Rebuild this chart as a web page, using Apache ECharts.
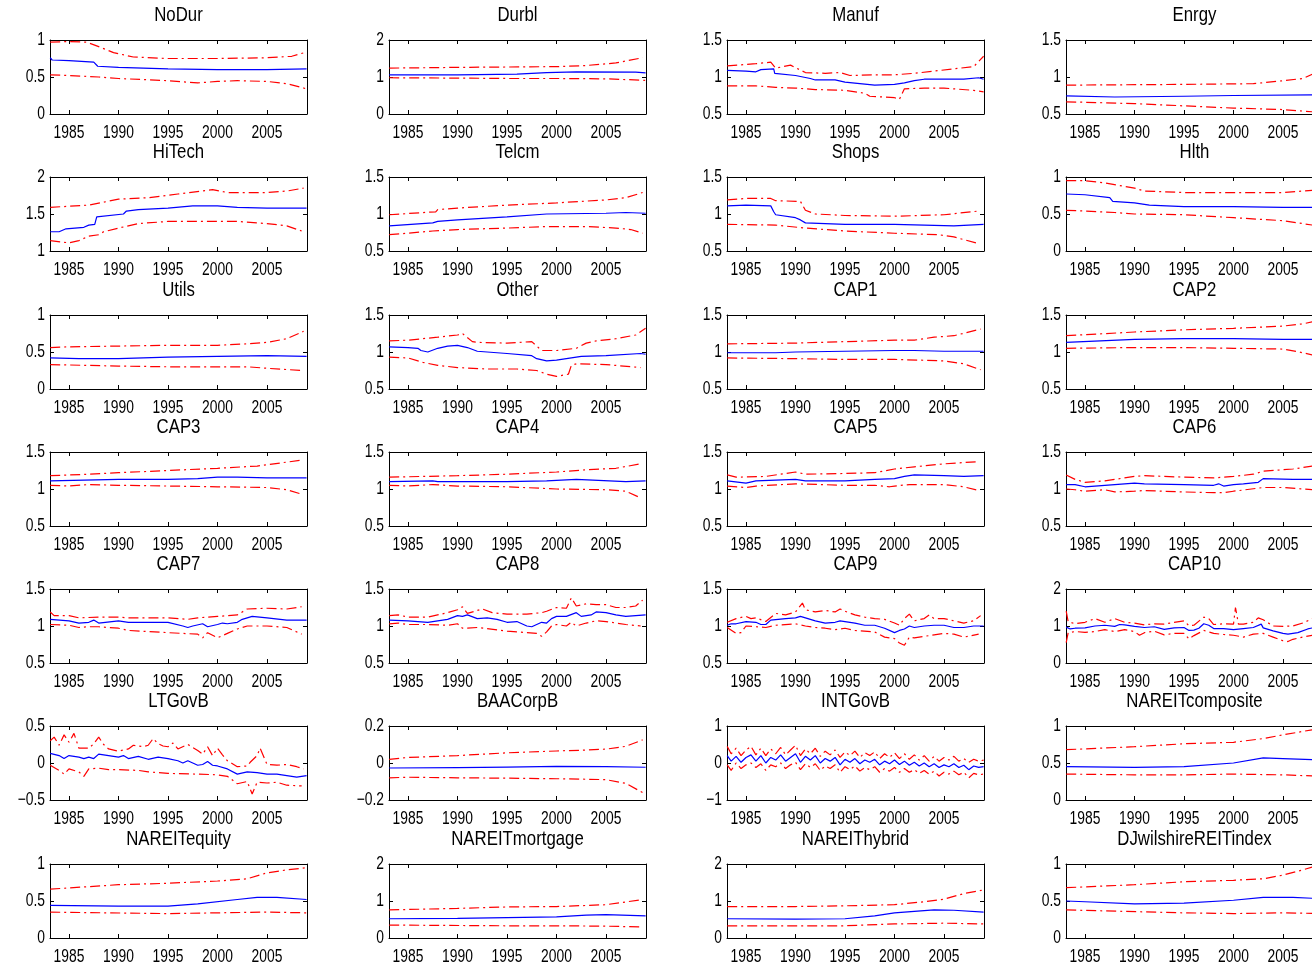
<!DOCTYPE html>
<html>
<head>
<meta charset="utf-8">
<script src="https://cdn.jsdelivr.net/npm/echarts@6/dist/echarts.min.js"></script>
<style>
  html, body { margin: 0; padding: 0; background: #fff; }
  #chart { width: 1312px; height: 971px; }
</style>
</head>
<body>
<div id="chart"></div>
<script>
// year ticks shown under every panel
const yearTicks = [1985, 1990, 1995, 2000, 2005];

// each series: [year, value]; Mid = estimate (blue), Up / Lo = bands (red)
const noDurMid = [[1983.1,0.76],[1983.3,0.73],[1985,0.72],[1987.5,0.70],[1987.7,0.69],[1987.9,0.645],[1990,0.63],[1995,0.61],[2000,0.60],[2005,0.60],[2009,0.61]];
const noDurUp = [[1983.1,0.97],[1985,0.98],[1986.8,0.97],[1988,0.91],[1989.5,0.83],[1991.5,0.77],[1995,0.75],[2000,0.75],[2005,0.76],[2007.5,0.78],[2008.8,0.83]];
const noDurLo = [[1983.1,0.53],[1985,0.52],[1988,0.50],[1990,0.48],[1995,0.45],[1998,0.42],[2000,0.44],[2002,0.45],[2005,0.44],[2007,0.41],[2009,0.34]];

const durblMid = [[1983.1,1.06],[1990,1.06],[1996,1.08],[1999,1.12],[2002,1.14],[2008,1.13],[2009,1.11]];
const durblUp = [[1983.1,1.24],[1990,1.26],[1995,1.27],[2000,1.28],[2003,1.31],[2006,1.38],[2008.7,1.52]];
const durblLo = [[1983.1,0.98],[1990,0.97],[1995,0.96],[2000,0.96],[2005,0.95],[2009,0.91]];

const manufMid = [[1983.1,1.09],[1985,1.08],[1986,1.07],[1986.5,1.10],[1987.8,1.11],[1987.9,1.05],[1990,1.02],[1991.5,0.98],[1992,0.96],[1994,0.96],[1995,0.93],[1998,0.89],[2000,0.90],[2001,0.92],[2002,0.95],[2003,0.97],[2007,0.97],[2008.5,0.99],[2009,0.97]];
const manufUp = [[1983.1,1.15],[1986,1.18],[1987.5,1.20],[1988,1.12],[1989.5,1.16],[1991,1.06],[1993,1.05],[1994.5,1.06],[1995.5,1.02],[1998,1.03],[2000,1.03],[2002,1.05],[2004,1.08],[2006,1.11],[2008,1.14],[2009,1.28]];
const manufLo = [[1983.1,0.88],[1986,0.88],[1988,0.86],[1990,0.85],[1992,0.83],[1995,0.82],[1997,0.78],[1997.5,0.74],[2000,0.72],[2000.5,0.70],[2001,0.84],[2003,0.85],[2005,0.85],[2008,0.82],[2009,0.80]];

const enrgyMid = [[1983.1,0.745],[1988,0.73],[1995,0.74],[2000,0.75],[2009,0.76]];
const enrgyUp = [[1983.1,0.89],[1995,0.90],[2002,0.91],[2005,0.95],[2007,0.98],[2008,1.04],[2009,1.08]];
const enrgyLo = [[1983.1,0.665],[1990,0.64],[1995,0.61],[2000,0.58],[2005,0.56],[2008,0.53],[2009,0.50]];

const hiTechMid = [[1983.1,1.26],[1984,1.26],[1984.7,1.30],[1986.5,1.32],[1987,1.35],[1987.6,1.36],[1987.8,1.46],[1990.5,1.50],[1990.8,1.54],[1992,1.56],[1995,1.58],[1997.5,1.61],[2000,1.61],[2002,1.59],[2005,1.58],[2009,1.58]];
const hiTechUp = [[1983.1,1.59],[1987,1.62],[1990,1.70],[1993,1.72],[1996,1.77],[1999.5,1.83],[2001,1.79],[2005,1.79],[2007,1.81],[2008.7,1.85]];
const hiTechLo = [[1983.1,1.14],[1985,1.11],[1986,1.14],[1987,1.20],[1988,1.22],[1988.5,1.26],[1990,1.31],[1992,1.37],[1995,1.40],[2000,1.40],[2002,1.40],[2005,1.37],[2007,1.34],[2008.5,1.27]];

const telcmMid = [[1983.1,0.84],[1987.5,0.88],[1988,0.90],[1990,0.92],[1995,0.96],[1999,1.00],[2005,1.01],[2007,1.02],[2009,1.01]];
const telcmUp = [[1983.1,0.99],[1987.8,1.03],[1988,1.06],[1990,1.08],[1995,1.12],[2000,1.15],[2005,1.19],[2007,1.22],[2008.7,1.29]];
const telcmLo = [[1983.1,0.72],[1987.5,0.77],[1990,0.79],[1995,0.81],[1999,0.83],[2003,0.83],[2006,0.81],[2007.5,0.79],[2008.7,0.74]];

const shopsMid = [[1983.1,1.11],[1985,1.12],[1987.5,1.11],[1987.8,1.03],[1988,0.99],[1990,0.95],[1990.5,0.92],[1991,0.88],[1995,0.86],[2000,0.86],[2003,0.85],[2006,0.84],[2009,0.86]];
const shopsUp = [[1983.1,1.19],[1985,1.21],[1987.5,1.21],[1988,1.18],[1990.5,1.17],[1991,1.05],[1992,1.00],[1995,0.98],[2000,0.97],[2005,0.99],[2008.5,1.04]];
const shopsLo = [[1983.1,0.86],[1988,0.85],[1991,0.81],[1995,0.77],[2000,0.74],[2004.5,0.72],[2006,0.69],[2008.5,0.60]];

const hlthMid = [[1983.1,0.77],[1985,0.76],[1987.5,0.72],[1987.8,0.67],[1990,0.65],[1991.5,0.62],[1995,0.60],[2000,0.60],[2005,0.59],[2009,0.59]];
const hlthUp = [[1983.1,0.95],[1985,0.95],[1987,0.92],[1990,0.85],[1991,0.81],[1995,0.79],[2000,0.79],[2005,0.79],[2008,0.82],[2009,0.84]];
const hlthLo = [[1983.1,0.55],[1985,0.54],[1988,0.52],[1990,0.50],[1995,0.49],[2000,0.45],[2005,0.41],[2009,0.33]];

const utilsMid = [[1983.1,0.42],[1986,0.41],[1990,0.41],[1995,0.43],[2000,0.44],[2005,0.45],[2009,0.44]];
const utilsUp = [[1983.1,0.56],[1985,0.57],[1990,0.58],[1995,0.59],[2000,0.59],[2003,0.61],[2005,0.63],[2007,0.68],[2008.7,0.78]];
const utilsLo = [[1983.1,0.33],[1990,0.31],[1995,0.30],[2000,0.30],[2003,0.30],[2005,0.28],[2008.5,0.25]];

const otherMid = [[1983.1,1.07],[1985,1.06],[1986,1.05],[1986.3,1.02],[1987,1.00],[1988,1.05],[1989,1.08],[1990,1.09],[1991,1.06],[1992,1.01],[1995,0.98],[1997.5,0.95],[1998,0.91],[1999,0.88],[2000,0.89],[2001.5,0.92],[2002.5,0.94],[2005,0.95],[2008.5,0.98],[2009,0.97]];
const otherUp = [[1983.1,1.15],[1985,1.16],[1988,1.20],[1990,1.23],[1990.5,1.25],[1991.5,1.14],[1992,1.13],[1995,1.12],[1997.5,1.14],[1998.5,1.02],[2000,1.02],[2002,1.05],[2003,1.12],[2004,1.15],[2006,1.18],[2008,1.23],[2009,1.32]];
const otherLo = [[1983.1,0.93],[1985,0.92],[1986.5,0.86],[1988,0.82],[1990,0.79],[1993,0.77],[1996,0.77],[1998,0.75],[1999,0.70],[2000,0.67],[2001.2,0.70],[2001.5,0.82],[2002,0.84],[2005,0.83],[2008.5,0.79]];

const cap1Mid = [[1983.1,0.99],[1988,0.99],[1990,1.00],[1995,1.01],[2000,1.02],[2002,1.02],[2005,1.01],[2009,1.01]];
const cap1Up = [[1983.1,1.11],[1990,1.12],[1995,1.14],[2000,1.16],[2002,1.16],[2004,1.20],[2006,1.22],[2008.7,1.31]];
const cap1Lo = [[1983.1,0.92],[1990,0.91],[1995,0.90],[2000,0.90],[2005,0.88],[2007,0.84],[2008.7,0.76]];

const cap2Mid = [[1983.1,1.13],[1990,1.17],[1995,1.18],[2000,1.18],[2005,1.17],[2009,1.17]];
const cap2Up = [[1983.1,1.22],[1990,1.27],[1995,1.30],[2000,1.32],[2005,1.35],[2007,1.38],[2008,1.41],[2009,1.43]];
const cap2Lo = [[1983.1,1.05],[1990,1.06],[1995,1.06],[2000,1.05],[2005,1.04],[2007,0.99],[2008,0.96],[2009,0.94]];

const cap3Mid = [[1983.1,1.11],[1990,1.13],[1995,1.13],[1998,1.14],[2000,1.16],[2002,1.16],[2005,1.15],[2009,1.15]];
const cap3Up = [[1983.1,1.18],[1987,1.20],[1990,1.22],[1995,1.25],[2000,1.28],[2004,1.31],[2008.5,1.39]];
const cap3Lo = [[1983.1,1.05],[1985,1.04],[1987,1.06],[1990,1.05],[1995,1.04],[2000,1.03],[2005,1.02],[2007,0.99],[2008.5,0.93]];

const cap4Mid = [[1983.1,1.10],[1987.5,1.11],[1988,1.10],[1995,1.10],[1999,1.11],[2002,1.13],[2007,1.10],[2009,1.11]];
const cap4Up = [[1983.1,1.16],[1990,1.18],[1995,1.20],[2000,1.23],[2003,1.26],[2006,1.28],[2008.5,1.34]];
const cap4Lo = [[1983.1,1.05],[1985,1.04],[1987.5,1.06],[1990,1.04],[1995,1.03],[2000,1.00],[2005,0.99],[2007,0.97],[2008.5,0.88]];

const cap5Mid = [[1983.1,1.11],[1985,1.08],[1986,1.11],[1990,1.13],[1991,1.11],[1995,1.11],[1998,1.13],[2000,1.14],[2001,1.17],[2002,1.19],[2005,1.18],[2007,1.17],[2009,1.18]];
const cap5Up = [[1983.1,1.19],[1984,1.16],[1987,1.17],[1990,1.23],[1991,1.20],[1995,1.21],[1998,1.22],[2000,1.27],[2002,1.30],[2005,1.34],[2008.5,1.37]];
const cap5Lo = [[1983.1,1.04],[1985,1.02],[1986,1.04],[1990,1.07],[1995,1.05],[1998,1.05],[1999.5,1.03],[2000,1.04],[2001.5,1.06],[2005,1.06],[2007,1.03],[2008.5,0.98]];

const cap6Mid = [[1983.1,1.06],[1984,1.06],[1985,1.03],[1987,1.05],[1990,1.08],[1991,1.07],[1995,1.06],[1998,1.05],[1998.5,1.07],[1999,1.04],[2000,1.06],[2001,1.07],[2002.5,1.09],[2003,1.14],[2006,1.13],[2009,1.13]];
const cap6Up = [[1983.1,1.19],[1984,1.13],[1985,1.09],[1987,1.11],[1990,1.17],[1991,1.18],[1995,1.16],[1998,1.15],[2000,1.17],[2002,1.20],[2003,1.24],[2006,1.27],[2008,1.31],[2009,1.33]];
const cap6Lo = [[1983.1,1.00],[1984,0.99],[1985,0.97],[1987,0.99],[1988,0.96],[1990,0.97],[1991,0.98],[1995,0.96],[1998,0.95],[1999,0.95],[2000,0.97],[2003,1.02],[2005,1.02],[2008,0.99],[2009,0.97]];

const cap7Mid = [[1983.1,1.09],[1985,1.07],[1986,1.04],[1987,1.05],[1987.5,1.08],[1988,1.04],[1990,1.07],[1991,1.05],[1995,1.05],[1996.5,1.00],[1997,0.98],[1997.5,1.00],[1998.5,1.03],[1999,0.99],[2000,1.02],[2000.5,1.04],[2001,1.03],[2002,1.05],[2002.5,1.09],[2003.5,1.13],[2005,1.11],[2007,1.08],[2009,1.08]];
const cap7Up = [[1983.1,1.19],[1983.5,1.14],[1985,1.14],[1986,1.11],[1988,1.12],[1990,1.12],[1991,1.11],[1995,1.11],[1997,1.09],[1998,1.11],[2000,1.13],[2002,1.15],[2003,1.23],[2005,1.24],[2007,1.23],[2008.5,1.26]];
const cap7Lo = [[1983.1,1.02],[1985,1.01],[1986,0.98],[1987,0.99],[1988,0.99],[1990,0.97],[1991,0.94],[1995,0.91],[1998,0.89],[1998.5,0.84],[1999,0.91],[2000,0.84],[2001,0.90],[2002,0.96],[2003,1.00],[2005,1.00],[2007,0.98],[2008.5,0.89]];

const cap8Mid = [[1983.1,1.08],[1985,1.07],[1987,1.05],[1988,1.07],[1989,1.09],[1990,1.14],[1990.5,1.13],[1991,1.15],[1992,1.10],[1993,1.11],[1994,1.09],[1995,1.05],[1996,1.06],[1997,1.00],[1997.5,0.99],[1998.5,1.05],[1999,1.04],[1999.5,1.10],[2000,1.13],[2001,1.13],[2002,1.18],[2002.5,1.13],[2003.5,1.15],[2004,1.19],[2005,1.18],[2006,1.15],[2007,1.13],[2008,1.14],[2009,1.15]];
const cap8Up = [[1983.1,1.14],[1984,1.15],[1985,1.12],[1987,1.12],[1989,1.18],[1990,1.22],[1990.5,1.26],[1991,1.17],[1992.5,1.23],[1993.5,1.18],[1995,1.16],[1997,1.16],[1998.5,1.18],[1999,1.20],[2000,1.25],[2001,1.24],[2001.5,1.38],[2002,1.27],[2003,1.30],[2004,1.29],[2005,1.29],[2006,1.25],[2007,1.25],[2008,1.27],[2008.7,1.35]];
const cap8Lo = [[1983.1,1.03],[1984,1.04],[1985,1.02],[1987,1.02],[1989,1.01],[1990,1.03],[1990.5,0.97],[1991,0.97],[1992,0.98],[1995,0.93],[1997,0.91],[1998,0.90],[1998.5,0.86],[1999,0.92],[1999.5,1.00],[2000,1.02],[2001,1.00],[2001.5,1.05],[2002,1.00],[2003,1.04],[2004,1.07],[2005,1.06],[2007,1.02],[2008.5,1.00]];

const cap9Mid = [[1983.1,1.01],[1983.5,1.03],[1984,1.03],[1985,1.06],[1986,1.05],[1986.5,1.02],[1987,1.02],[1987.5,1.08],[1989,1.10],[1990,1.11],[1990.5,1.13],[1991,1.11],[1992,1.07],[1993,1.04],[1994,1.05],[1994.5,1.07],[1996,1.04],[1997,1.01],[1998,1.01],[1999,0.97],[2000,0.91],[2000.5,0.94],[2001,0.96],[2001.5,1.00],[2002,0.98],[2003,1.00],[2004,1.01],[2005,1.01],[2006,0.98],[2007,0.98],[2008,1.00],[2009,1.00]];
const cap9Up = [[1983.1,1.05],[1984,1.10],[1985,1.13],[1985.5,1.10],[1986,1.11],[1987,1.06],[1988,1.17],[1989,1.15],[1990,1.19],[1990.7,1.31],[1991,1.22],[1992,1.19],[1993,1.21],[1994,1.19],[1994.5,1.23],[1995,1.20],[1996,1.15],[1997,1.12],[1998,1.10],[1999,1.09],[2000,1.04],[2000.5,1.01],[2001,1.10],[2001.5,1.16],[2002,1.07],[2003,1.10],[2003.5,1.15],[2004,1.10],[2005,1.10],[2006,1.07],[2007,1.04],[2008,1.07],[2008.7,1.14]];
const cap9Lo = [[1983.1,0.98],[1984,0.90],[1984.5,0.91],[1985,1.00],[1986,0.99],[1987,0.98],[1988,1.01],[1990,1.03],[1991,1.00],[1992,0.98],[1993,0.97],[1994,0.95],[1995,0.97],[1996,0.94],[1998,0.92],[1999,0.85],[2000,0.83],[2000.5,0.77],[2001,0.74],[2001.5,0.85],[2002,0.84],[2003,0.86],[2004,0.88],[2005,0.90],[2006,0.89],[2007,0.85],[2008.5,0.89]];

const cap10Mid = [[1983.1,0.97],[1983.5,0.92],[1984,0.94],[1985,0.95],[1986,1.00],[1987,1.02],[1988,0.99],[1988.5,1.04],[1989,1.03],[1990,0.99],[1991,0.96],[1992,0.98],[1993,0.91],[1994,0.95],[1995,0.96],[1995.5,0.88],[1996,0.89],[1996.5,0.94],[1997,1.06],[1997.5,1.02],[1998,0.93],[1999,0.93],[2000,0.90],[2001,0.93],[2002,0.96],[2002.8,1.05],[2003,0.95],[2004,0.87],[2005,0.80],[2005.5,0.78],[2006.5,0.82],[2007.5,0.92],[2008,0.95],[2009,0.92]];
const cap10Up = [[1983.1,1.40],[1983.3,1.12],[1984,1.06],[1985,1.10],[1986,1.20],[1987,1.10],[1988,1.20],[1989,1.10],[1990,1.08],[1991,1.03],[1992,1.06],[1993,1.05],[1994,1.10],[1995,1.14],[1995.5,1.01],[1996,1.02],[1997,1.24],[1997.5,1.20],[1998,1.04],[1999,1.06],[2000,1.05],[2000.2,1.50],[2000.5,1.05],[2001,1.05],[2002,1.10],[2002.5,1.22],[2003,1.17],[2004,1.00],[2005,0.99],[2006,1.00],[2007,1.08],[2008,1.20],[2009,1.10]];
const cap10Lo = [[1983.1,0.55],[1983.3,0.82],[1984,0.85],[1985,0.83],[1986,0.85],[1987,0.90],[1988,0.85],[1989,0.90],[1990,0.85],[1990.5,0.75],[1991,0.82],[1992,0.86],[1993,0.76],[1994,0.80],[1995,0.80],[1995.5,0.65],[1996,0.74],[1997,0.88],[1998,0.80],[1999,0.77],[2000,0.75],[2001,0.70],[2002,0.78],[2003,0.80],[2004,0.70],[2005,0.60],[2005.5,0.58],[2006,0.64],[2007,0.70],[2008,0.75],[2009,0.72]];

const ltGovBMid = [[1983.1,0.13],[1984,0.10],[1984.5,0.06],[1985,0.10],[1986,0.08],[1986.5,0.06],[1987,0.08],[1987.5,0.06],[1988,0.12],[1989,0.10],[1990,0.08],[1990.5,0.10],[1991,0.06],[1992,0.09],[1993,0.05],[1994,0.08],[1995,0.06],[1996,0.03],[1996.5,0.00],[1997,0.03],[1998,-0.03],[1998.5,-0.02],[1999,0.02],[1999.5,-0.03],[2000,-0.04],[2001,-0.08],[2002,-0.15],[2003,-0.12],[2004,-0.13],[2005,-0.15],[2006,-0.15],[2007,-0.17],[2008,-0.19],[2009,-0.17]];
const ltGovBUp = [[1983.1,0.30],[1983.5,0.35],[1984,0.24],[1984.5,0.38],[1985,0.28],[1985.5,0.40],[1986,0.20],[1987,0.20],[1987.5,0.26],[1988,0.35],[1988.5,0.25],[1989,0.19],[1990,0.16],[1991,0.19],[1991.5,0.24],[1992.5,0.22],[1993,0.24],[1993.5,0.33],[1994,0.26],[1994.5,0.23],[1995,0.22],[1995.5,0.27],[1996,0.19],[1997,0.25],[1998,0.17],[1998.5,0.12],[1999,0.22],[1999.5,0.10],[2000,0.20],[2000.5,0.11],[2001,0.03],[2002,-0.05],[2003,-0.04],[2003.3,0.01],[2004,0.10],[2004.3,0.20],[2005,-0.02],[2006,-0.03],[2007,-0.02],[2008,-0.05],[2008.7,-0.08]];
const ltGovBLo = [[1983.1,-0.03],[1984,-0.10],[1984.5,-0.15],[1985,-0.08],[1986,-0.12],[1986.5,-0.18],[1987,-0.08],[1988,-0.07],[1989,-0.09],[1990,-0.09],[1992,-0.10],[1993,-0.12],[1995,-0.14],[1998,-0.15],[2000,-0.16],[2001,-0.18],[2002,-0.28],[2003,-0.25],[2003.5,-0.42],[2004,-0.26],[2005,-0.27],[2006,-0.26],[2007,-0.30],[2008.5,-0.31]];

const baaCorpBMid = [[1983.1,-0.027],[1990,-0.025],[1995,-0.022],[2000,-0.018],[2005,-0.02],[2009,-0.023]];
const baaCorpBUp = [[1983.1,0.02],[1985,0.03],[1990,0.04],[1995,0.055],[2000,0.065],[2003,0.07],[2005,0.075],[2007,0.09],[2008.7,0.125]];
const baaCorpBLo = [[1983.1,-0.08],[1985,-0.077],[1990,-0.08],[1995,-0.082],[2000,-0.085],[2005,-0.09],[2007,-0.11],[2008.7,-0.16]];

const intGovBMid = [[1983.1,0.20],[1983.5,0.05],[1984,0.18],[1984.5,0.02],[1985,0.15],[1985.5,0.22],[1986,0.05],[1986.5,0.20],[1987,0.00],[1987.5,0.15],[1988,0.08],[1988.5,0.22],[1989,0.05],[1989.5,0.15],[1990,0.25],[1990.5,0.02],[1991,0.18],[1991.5,0.08],[1992,0.20],[1992.5,0.00],[1993,0.12],[1993.5,0.05],[1994,0.15],[1994.5,-0.05],[1995,0.10],[1995.5,0.02],[1996,0.12],[1996.5,-0.02],[1997,0.08],[1997.5,0.02],[1998,0.10],[1998.5,-0.05],[1999,0.05],[1999.5,-0.02],[2000,0.08],[2000.5,-0.04],[2001,0.05],[2001.5,-0.06],[2002,0.02],[2002.5,-0.08],[2003,0.00],[2003.5,-0.10],[2004,-0.02],[2004.5,-0.12],[2005,-0.05],[2005.5,-0.10],[2006,-0.02],[2006.5,-0.12],[2007,-0.06],[2007.5,-0.18],[2008,-0.08],[2008.5,-0.12],[2009,-0.10]];
const intGovBUp = [[1983.1,0.45],[1983.5,0.25],[1984,0.40],[1984.5,0.20],[1985,0.35],[1985.5,0.45],[1986,0.22],[1986.5,0.40],[1987,0.20],[1987.5,0.38],[1988,0.25],[1988.5,0.42],[1989,0.22],[1989.5,0.35],[1990,0.48],[1990.5,0.20],[1991,0.38],[1991.5,0.25],[1992,0.40],[1992.5,0.18],[1993,0.32],[1993.5,0.22],[1994,0.35],[1994.5,0.15],[1995,0.30],[1995.5,0.20],[1996,0.32],[1996.5,0.15],[1997,0.28],[1997.5,0.20],[1998,0.30],[1998.5,0.12],[1999,0.25],[1999.5,0.15],[2000,0.28],[2000.5,0.12],[2001,0.25],[2001.5,0.10],[2002,0.22],[2002.5,0.08],[2003,0.20],[2003.5,0.05],[2004,0.18],[2004.5,0.05],[2005,0.15],[2005.5,0.08],[2006,0.18],[2006.5,0.05],[2007,0.12],[2007.5,0.02],[2008,0.10],[2008.5,0.05],[2009,0.08]];
const intGovBLo = [[1983.1,-0.05],[1983.5,-0.20],[1984,0.00],[1984.5,-0.15],[1985,-0.05],[1985.5,0.00],[1986,-0.12],[1986.5,-0.02],[1987,-0.20],[1987.5,-0.05],[1988,-0.10],[1988.5,0.00],[1989,-0.15],[1989.5,-0.05],[1990,0.02],[1990.5,-0.18],[1991,-0.02],[1991.5,-0.12],[1992,-0.02],[1992.5,-0.20],[1993,-0.08],[1993.5,-0.15],[1994,-0.05],[1994.5,-0.25],[1995,-0.10],[1995.5,-0.18],[1996,-0.08],[1996.5,-0.22],[1997,-0.12],[1997.5,-0.18],[1998,-0.10],[1998.5,-0.25],[1999,-0.15],[1999.5,-0.22],[2000,-0.12],[2000.5,-0.25],[2001,-0.15],[2001.5,-0.25],[2002,-0.18],[2002.5,-0.28],[2003,-0.20],[2003.5,-0.30],[2004,-0.22],[2004.5,-0.35],[2005,-0.25],[2005.5,-0.30],[2006,-0.22],[2006.5,-0.32],[2007,-0.25],[2007.5,-0.40],[2008,-0.28],[2008.5,-0.32],[2009,-0.30]];

const nareitCompMid = [[1983.1,0.45],[1990,0.44],[1995,0.45],[2000,0.50],[2003,0.57],[2005,0.56],[2009,0.54]];
const nareitCompUp = [[1983.1,0.68],[1990,0.72],[1995,0.76],[2000,0.78],[2003,0.83],[2005,0.88],[2008,0.95],[2009,0.97]];
const nareitCompLo = [[1983.1,0.35],[1990,0.34],[1995,0.34],[2000,0.35],[2005,0.34],[2009,0.32]];

const nareitEqMid = [[1983.1,0.44],[1990,0.43],[1995,0.43],[1998,0.46],[2002,0.52],[2004,0.55],[2006,0.55],[2009,0.52]];
const nareitEqUp = [[1983.1,0.66],[1990,0.72],[1995,0.74],[2000,0.77],[2003,0.80],[2005,0.88],[2007,0.92],[2009,0.95]];
const nareitEqLo = [[1983.1,0.35],[1995,0.33],[2000,0.34],[2005,0.35],[2009,0.34]];

const nareitMortMid = [[1983.1,0.52],[1990,0.53],[1995,0.55],[2000,0.57],[2003,0.62],[2005,0.63],[2009,0.60]];
const nareitMortUp = [[1983.1,0.76],[1990,0.80],[1995,0.84],[2000,0.85],[2005,0.90],[2008.5,1.03]];
const nareitMortLo = [[1983.1,0.35],[1995,0.33],[2000,0.33],[2005,0.32],[2008.5,0.30]];

const nareitHybMid = [[1983.1,0.52],[1990,0.51],[1995,0.52],[1998,0.60],[2000,0.68],[2002,0.72],[2004,0.76],[2006,0.75],[2009,0.70]];
const nareitHybUp = [[1983.1,0.85],[1990,0.85],[1995,0.87],[2000,0.90],[2003,0.98],[2005,1.05],[2007,1.20],[2009,1.30]];
const nareitHybLo = [[1983.1,0.33],[1995,0.33],[2000,0.38],[2005,0.40],[2009,0.38]];

const djWilshireMid = [[1983.1,0.50],[1985,0.49],[1990,0.46],[1995,0.47],[2000,0.51],[2003,0.55],[2006,0.55],[2009,0.53]];
const djWilshireUp = [[1983.1,0.68],[1990,0.72],[1995,0.76],[2000,0.78],[2003,0.80],[2005,0.85],[2007,0.92],[2008.5,0.98],[2009,1.00]];
const djWilshireLo = [[1983.1,0.38],[1995,0.34],[2000,0.33],[2005,0.34],[2009,0.33]];

// panel titles and y ranges, row by row
const titles = ['NoDur','Durbl','Manuf','Enrgy','HiTech','Telcm','Shops','Hlth','Utils','Other','CAP1','CAP2',
  'CAP3','CAP4','CAP5','CAP6','CAP7','CAP8','CAP9','CAP10','LTGovB','BAACorpB','INTGovB','NAREITcomposite',
  'NAREITequity','NAREITmortgage','NAREIThybrid','DJwilshireREITindex'];
const yMins = [0,0,0.5,0.5, 1,0.5,0.5,0, 0,0.5,0.5,0.5, 0.5,0.5,0.5,0.5, 0.5,0.5,0.5,0, -0.5,-0.2,-1,0, 0,0,0,0];
const yMaxs = [1,2,1.5,1.5, 2,1.5,1.5,1, 1,1.5,1.5,1.5, 1.5,1.5,1.5,1.5, 1.5,1.5,1.5,2, 0.5,0.2,1,1, 1,2,2,1];
const mids = [noDurMid,durblMid,manufMid,enrgyMid,hiTechMid,telcmMid,shopsMid,hlthMid,utilsMid,otherMid,cap1Mid,cap2Mid,
  cap3Mid,cap4Mid,cap5Mid,cap6Mid,cap7Mid,cap8Mid,cap9Mid,cap10Mid,ltGovBMid,baaCorpBMid,intGovBMid,nareitCompMid,
  nareitEqMid,nareitMortMid,nareitHybMid,djWilshireMid];
const ups = [noDurUp,durblUp,manufUp,enrgyUp,hiTechUp,telcmUp,shopsUp,hlthUp,utilsUp,otherUp,cap1Up,cap2Up,
  cap3Up,cap4Up,cap5Up,cap6Up,cap7Up,cap8Up,cap9Up,cap10Up,ltGovBUp,baaCorpBUp,intGovBUp,nareitCompUp,
  nareitEqUp,nareitMortUp,nareitHybUp,djWilshireUp];
const los = [noDurLo,durblLo,manufLo,enrgyLo,hiTechLo,telcmLo,shopsLo,hlthLo,utilsLo,otherLo,cap1Lo,cap2Lo,
  cap3Lo,cap4Lo,cap5Lo,cap6Lo,cap7Lo,cap8Lo,cap9Lo,cap10Lo,ltGovBLo,baaCorpBLo,intGovBLo,nareitCompLo,
  nareitEqLo,nareitMortLo,nareitHybLo,djWilshireLo];

const FONT = "'Liberation Sans', Arial, sans-serif";
const W = 1312;
const colLeft = [50, 389, 727, 1066];
const rowTop = [40, 177, 315, 452, 589, 726, 864];
const boxW = 257, boxH = 74;
const xMin = 1983.08, xMax = 2009.04;

const fmtY = v => {
  const n = +(+v).toFixed(3);
  return (n < 0 ? '\u2212' : '') + Math.abs(n);
};

const chart = echarts.init(document.getElementById('chart'), null, { renderer: 'canvas' });

const grid = [], xAxis = [], yAxis = [], series = [];
const axisLine = { show: true, onZero: false, lineStyle: { color: '#000', width: 1 } };
const tick = { show: true, inside: true, length: 4, lineStyle: { color: '#000', width: 1 } };

titles.forEach((name, i) => {
  const left = colLeft[i % 4], top = rowTop[Math.floor(i / 4)];
  // the last column runs off the page in the original: keep the same scale, cut at the edge
  const cut = left + boxW > W;
  const width = cut ? W - left : boxW;
  const xEnd = xMin + (xMax - xMin) * width / boxW;
  grid.push({ left: left, top: top, width: width, height: boxH, containLabel: false });
  const step = (yMaxs[i] - yMins[i]) / 2;
  xAxis.push({
    type: 'value', gridIndex: i, min: xMin, max: xEnd, position: 'bottom',
    axisLine: axisLine, splitLine: { show: false },
    axisTick: Object.assign({}, tick, { customValues: yearTicks }),
    axisLabel: { show: false }
  });
  xAxis.push({
    type: 'value', gridIndex: i, min: xMin, max: xEnd, position: 'top',
    axisLine: axisLine, splitLine: { show: false },
    axisTick: Object.assign({}, tick, { customValues: yearTicks }),
    axisLabel: { show: false }
  });
  yAxis.push({
    type: 'value', gridIndex: i, min: yMins[i], max: yMaxs[i], interval: step, position: 'left',
    axisLine: axisLine, splitLine: { show: false }, axisTick: tick, axisLabel: { show: false }
  });
  yAxis.push({
    type: 'value', gridIndex: i, min: yMins[i], max: yMaxs[i], interval: step, position: 'right',
    axisLine: Object.assign({}, axisLine, { show: !cut }), splitLine: { show: false },
    axisTick: Object.assign({}, tick, { show: !cut }), axisLabel: { show: false }
  });

  const band = (data) => ({
    type: 'line', xAxisIndex: 2 * i, yAxisIndex: 2 * i, data: data, showSymbol: false, symbol: 'none',
    lineStyle: { color: '#ff0000', width: 1.2, type: [10, 4, 2, 4] }, silent: true, animation: false, z: 2
  });
  series.push(band(ups[i]));
  series.push(band(los[i]));
  series.push({
    type: 'line', xAxisIndex: 2 * i, yAxisIndex: 2 * i, data: mids[i], showSymbol: false, symbol: 'none',
    lineStyle: { color: '#0000ff', width: 1.2 }, silent: true, animation: false, z: 3
  });
});

chart.setOption({
  backgroundColor: '#fff',
  animation: false,
  grid: grid,
  xAxis: xAxis,
  yAxis: yAxis,
  series: series
});

// tick labels and titles: placed with the axes' own scales, drawn squeezed like the original figure
const graphic = [];
const txt = (x, y, text, size, align, sx) => ({
  type: 'text', x: x, y: y, scaleX: sx, silent: true,
  style: { text: text, align: align, verticalAlign: 'middle', font: size + 'px ' + FONT, fill: '#000' }
});
titles.forEach((name, i) => {
  const step = (yMaxs[i] - yMins[i]) / 2;
  yearTicks.forEach(yr => {
    const p = chart.convertToPixel({ gridIndex: i }, [yr, yMins[i]]);
    graphic.push(txt(p[0], p[1] + 19, String(yr), 18, 'center', 0.77));
  });
  [0, 1, 2].forEach(k => {
    const v = yMins[i] + k * step;
    const p = chart.convertToPixel({ gridIndex: i }, [xMin, v]);
    graphic.push(txt(p[0] - 5, p[1], fmtY(v), 18, 'right', 0.77));
  });
  // title centred over the full (uncut) box
  const c = chart.convertToPixel({ gridIndex: i }, [(xMin + xMax) / 2, yMaxs[i]]);
  graphic.push(txt(c[0], c[1] - 25, name, 21, 'center', 0.8));
});
chart.setOption({ graphic: graphic });
</script>
</body>
</html>
